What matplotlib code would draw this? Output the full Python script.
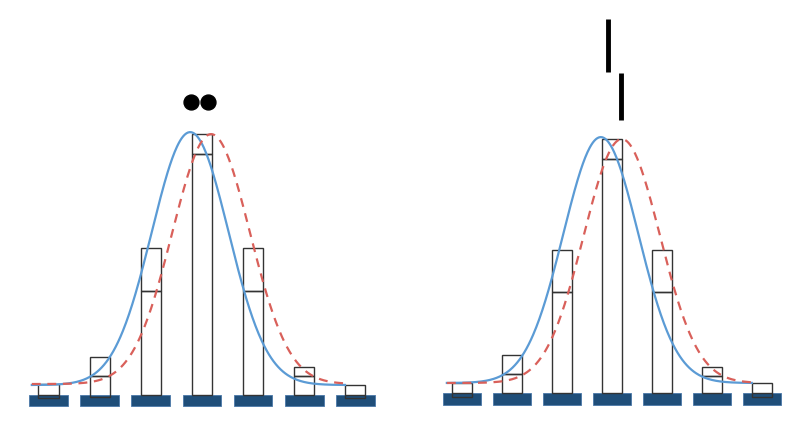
import numpy as np
import matplotlib
matplotlib.use("Agg")
import matplotlib.pyplot as plt

# categories (7 slots in each panel)
cats = np.arange(7)

# left panel: lower segment, upper segment, bar bottom
left_lower = [0, 19, 104, 241, 104, 19, 0]
left_upper = [14, 19, 43, 20, 43, 9, 13]
left_bottom = [-3, -2, 0, 0, 0, 0, -3]

# right panel
right_lower = [0, 19, 101, 234, 101, 17, 0]
right_upper = [14, 19, 42, 20, 42, 9, 14]
right_bottom = [-4, 0, 0, 0, 0, 0, -4]

# curve parameters: (centre, spread, height, floor)
left_blue = (2.77, 0.75, 253, 10)
left_red = (3.18, 0.76, 250, 11)
right_blue = (2.77, 0.75, 246, 10)
right_red = (3.19, 0.76, 244, 10)

# markers above the peaks
left_dots_x = [2.79, 3.12]
left_dots_y = [293, 293]
right_marks_x = [2.91, 3.17]
right_marks_top = [374, 320]
right_marks_bot = [321, 273]

BASE_COLOR = "#1f4e79"
BLUE = "#5b9bd5"
RED = "#d9605a"

fig = plt.figure(figsize=(8, 4.24), dpi=100)
ax1 = fig.add_axes([0.0289, 0.0212, 0.447, 0.778])
ax2 = fig.add_axes([0.5467, 0.026, 0.4374, 0.943])


def bell(x, p):
    c, s, h, f = p
    return f + h * np.exp(-(x - c) ** 2 / (2 * s ** 2))


def draw_panel(ax, lower, upper, bottom, blue, red, x0, x1, base_h):
    ax.bar(cats, [base_h] * 7, bottom=-base_h, width=0.76, color=BASE_COLOR,
           edgecolor="#4a78a8", linewidth=0.6, zorder=1)
    low = np.array(lower)
    bot = np.array(bottom)
    ax.bar(cats, low - bot * (low > 0), bottom=bot * (low > 0), width=0.4,
           fill=False, edgecolor="#333333", linewidth=1.0, zorder=2)
    ax.bar(cats, upper, bottom=np.where(low > 0, low, bot), width=0.4,
           fill=False, edgecolor="#333333", linewidth=1.0, zorder=2)
    xs = np.linspace(x0, x1, 400)
    ax.plot(xs, bell(xs, blue), color=BLUE, lw=1.6, zorder=3)
    ax.plot(xs, bell(xs, red), color=RED, lw=1.6, ls=(0, (4, 3)), zorder=3)
    ax.set_xlim(-0.5, 6.5)
    ax.axis("off")


draw_panel(ax1, left_lower, left_upper, left_bottom, left_blue, left_red,
           -0.33, 5.80, 11)
ax1.set_ylim(-20, 310)
ax1.scatter(left_dots_x, left_dots_y, s=115, color="black", zorder=4)

draw_panel(ax2, right_lower, right_upper, right_bottom, right_blue, right_red,
           -0.31, 5.79, 12)
ax2.set_ylim(-20, 380)
ax2.vlines(right_marks_x, right_marks_bot, right_marks_top, color="black",
           lw=3.5, zorder=4)

fig.savefig("out.png", dpi=100)
